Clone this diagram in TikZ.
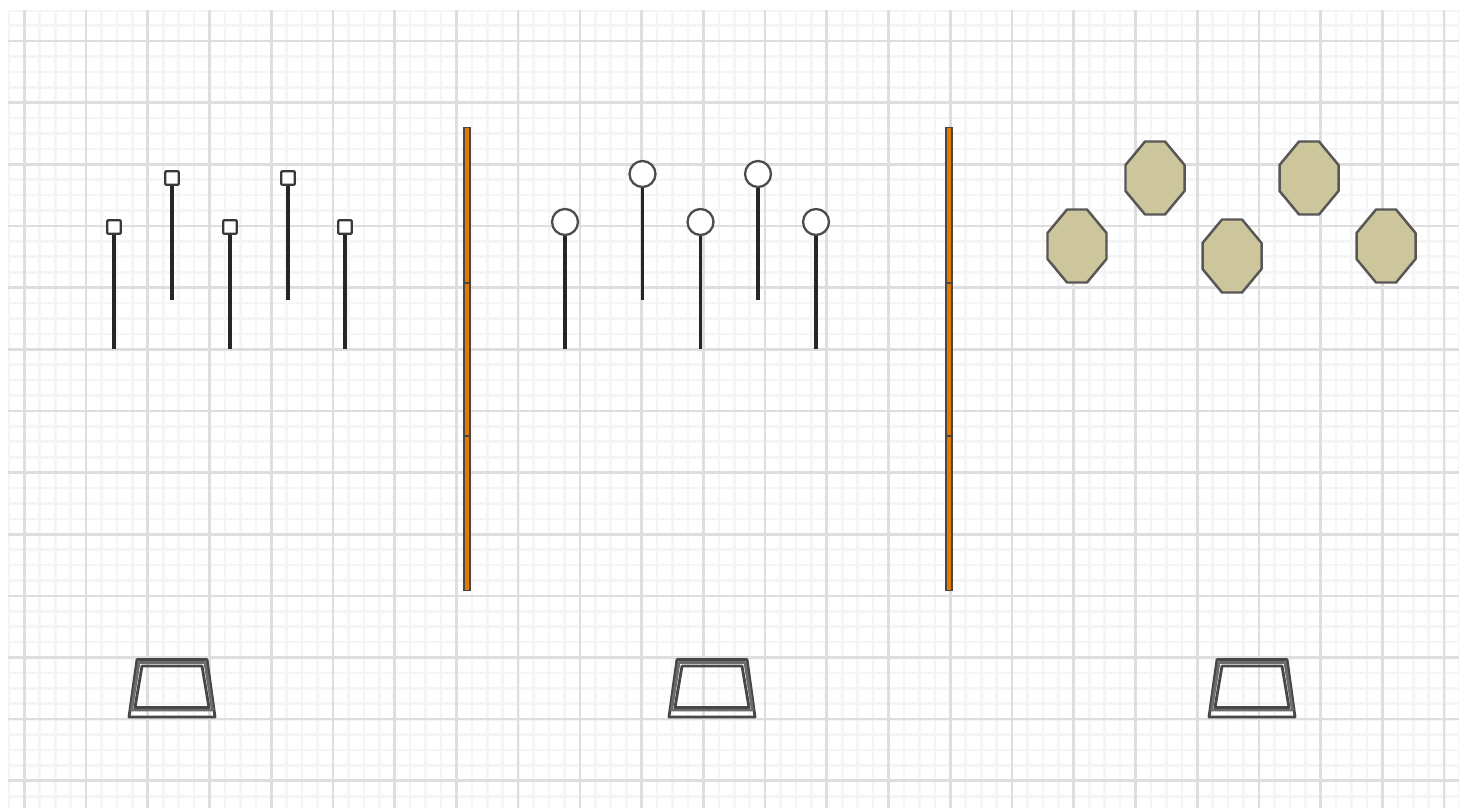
\documentclass[tikz,border=0pt]{standalone}
\usepackage{xcolor}
\definecolor{barorange}{HTML}{E07A00}
\definecolor{octafill}{HTML}{CDC59B}
\usetikzlibrary{positioning}

\begin{document}
\begin{tikzpicture}[
    x=0.02cm, y=-0.02cm,
    minorline/.style={draw=black!4, line width=1.5pt},
    majorline/.style={draw=black!13, line width=1.5pt},
    stem/.style={draw=black!85, line width=2pt},
    sqhead/.style={
        rectangle,
        rounded corners=0.5pt,
        draw=black!78,
        fill=white,
        line width=1.3pt,
        inner sep=0pt,
        minimum size=0.27cm
    },
    roundhead/.style={
        circle,
        draw=black!70,
        fill=white,
        line width=1.3pt,
        inner sep=0pt,
        minimum size=0.52cm
    },
    barpart/.style={draw=black!72, fill=barorange, line width=1.1pt},
    octa/.style={draw=black!66, fill=octafill, line width=1.4pt, line join=round},
    trayout/.style={draw=black!72, line width=1.6pt, line join=round},
    traymid/.style={draw=black!58, line width=1.6pt, line join=round}
]

\useasboundingbox (0,0) rectangle (1459,808);

% =========================================================
% Grid paper
% =========================================================
\begin{scope}
\clip (8,10) rectangle (1459,808);
\foreach \i in {0,...,94} {
    \draw[minorline] ({8.9+15.433*\i},10) -- ({8.9+15.433*\i},808);
}
\foreach \i in {0,...,52} {
    \draw[minorline] (8,{10.2+15.413*\i}) -- (1459,{10.2+15.413*\i});
}
\foreach \i in {0,...,23} {
    \draw[majorline] ({24.3+61.73*\i},10) -- ({24.3+61.73*\i},808);
}
\foreach \i in {0,...,12} {
    \draw[majorline] (8,{41+61.65*\i}) -- (1459,{41+61.65*\i});
}
\end{scope}

% =========================================================
% Left group: square heads
% =========================================================
\foreach \n/\px/\py/\pe in {a/114/227/349, b/172/178/300, c/230/227/349, d/288/178/300, e/345/227/349} {
    \node[sqhead] (sq\n) at (\px,\py) {};
    \coordinate (sqend\n) at (\px,\pe);
    \draw[stem] (sq\n.south) -- (sqend\n);
}

% =========================================================
% Middle group: round heads
% =========================================================
\foreach \n/\px/\py/\pe in {a/565/222/349, b/642.5/174/300, c/700.5/222/349, d/758/174/300, e/816/222/349} {
    \node[roundhead] (rd\n) at (\px,\py) {};
    \coordinate (rdend\n) at (\px,\pe);
    \draw[stem] (rd\n.south) -- (rdend\n);
}

% =========================================================
% Right group: octagons
% =========================================================
\foreach \px/\py in {1077/246, 1155/178, 1232/256, 1309/178, 1386/246} {
    \draw[octa, shift={(\px,\py)}]
        (-10,-36.5) -- (10,-36.5) -- (29.5,-13) -- (29.5,13)
        -- (10,36.5) -- (-10,36.5) -- (-29.5,13) -- (-29.5,-13) -- cycle;
}

% =========================================================
% Orange dividers
% =========================================================
\foreach \px in {463.8, 946.3} {
    \draw[barpart] (\px,127.5) rectangle ++(6,155.5);
    \draw[barpart] (\px,283) rectangle ++(6,153);
    \draw[barpart] (\px,436) rectangle ++(6,154.5);
}

% =========================================================
% Trays
% =========================================================
\foreach \px in {128, 668, 1208} {
    \begin{scope}[shift={(\px,0)}]
    \draw[trayout] (1,717) -- (9,659.5) -- (79,659.5) -- (87,717) -- cycle;
    \draw[traymid] (3.5,710) -- (11,662.5) -- (77,662.5) -- (84.5,710) -- cycle;
    \draw[trayout] (7,707.5) -- (14,666) -- (74,666) -- (81,707.5) -- cycle;
    \end{scope}
}

\end{tikzpicture}
\end{document}
